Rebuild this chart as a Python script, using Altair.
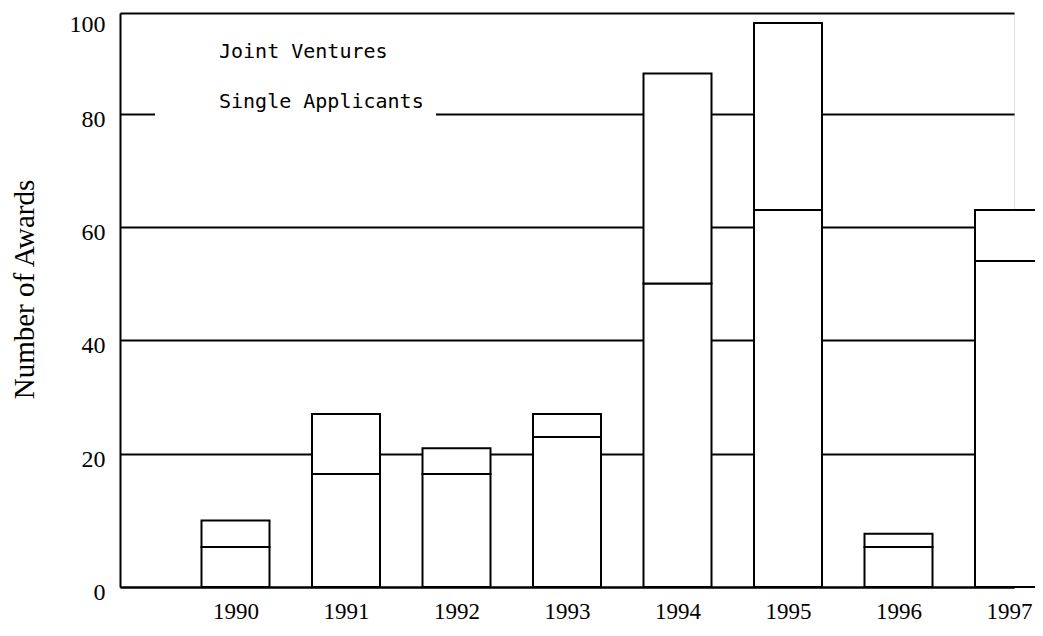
import altair as alt
import pandas as pd

years = [1990, 1991, 1992, 1993, 1994, 1995, 1996, 1997]
single_applicants = [6, 17, 17, 23, 50, 63, 6, 54]
joint_ventures = [4, 10, 4, 4, 38, 35, 2, 9]
series_names = ["Joint Ventures", "Single Applicants"]
y_ticks = [0, 20, 40, 60, 80, 100]

rows = []
for yr, s, j in zip(years, single_applicants, joint_ventures):
    rows.append({"year": yr, "series": "Single Applicants", "y0": 0, "y1": s})
    rows.append({"year": yr, "series": "Joint Ventures", "y0": s, "y1": s + j})
df = pd.DataFrame(rows)

serif = "Liberation Serif"

chart = alt.Chart(df).mark_bar(
    width=68, stroke="black", strokeWidth=2, strokeJoin="miter"
).encode(
    x=alt.X(
        "year:Q",
        scale=alt.Scale(domain=[1989, 1997], nice=False, zero=False),
        axis=alt.Axis(
            values=years, format="d", title=None, grid=False, ticks=False,
            labelFlush=False, labelOverlap=False, labelFont=serif,
            labelFontSize=23, labelColor="black", labelPadding=13,
            domainColor="black", domainWidth=2,
        ),
    ),
    y=alt.Y(
        "y0:Q",
        scale=alt.Scale(domain=y_ticks, range=[574, 441, 327, 214, 101, 0]),
        axis=alt.Axis(
            values=y_ticks, title="Number of Awards", grid=True,
            gridColor="black", gridWidth=2, gridOpacity=1, ticks=False,
            labelFont=serif, labelFontSize=24, labelColor="black",
            labelPadding=15, labelFlush=False,
            labelOffset={"expr": "datum.value == 100 ? 11 : 5"},
            domainColor="black", domainWidth=2,
            titleFont=serif, titleFontSize=29, titleFontWeight="normal",
            titleColor="black", titlePadding=30, titleY=276,
        ),
    ),
    y2="y1:Q",
    color=alt.Color(
        "series:N",
        scale=alt.Scale(domain=series_names, range=["white", "white"]),
        legend=alt.Legend(
            title=None, orient="none", legendX=35, legendY=17,
            fillColor="white", padding=12, symbolOpacity=0,
            symbolStrokeWidth=0, symbolSize=100, labelOffset=32,
            labelFont="DejaVu Sans Mono", labelFontSize=20,
            labelColor="black", rowPadding=30, labelLimit=400,
        ),
    ),
).properties(
    width=894,
    height=574,
    autosize=alt.AutoSizeParams(type="none"),
    padding={"left": 112, "top": 5, "right": 21, "bottom": 41},
).configure_view(
    stroke="black", strokeWidth=2
).configure(background="white")

chart.save("out.html", embed_options={"renderer": "svg", "actions": False})
